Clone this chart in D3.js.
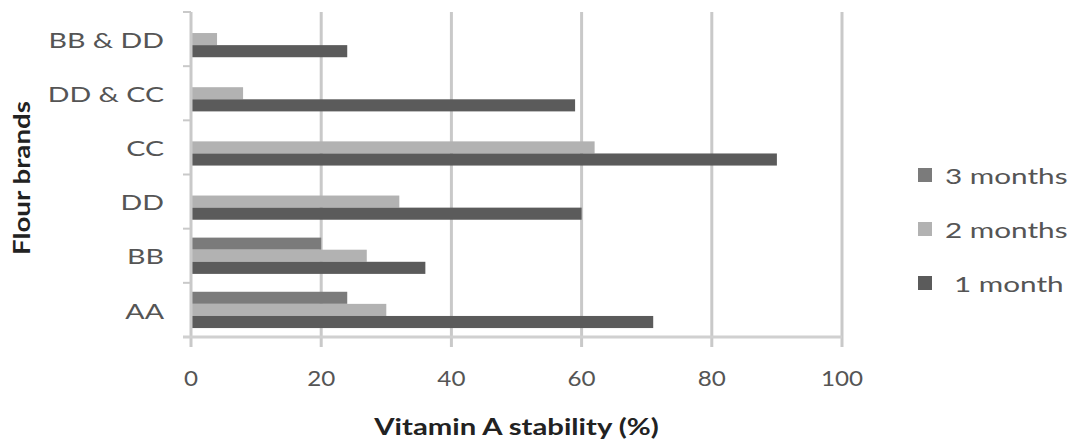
<!DOCTYPE html>
<html lang="en">
<head>
<meta charset="UTF-8">
<title>Vitamin A stability</title>
<script src="https://cdn.jsdelivr.net/npm/d3@7"></script>
<style>
  body { margin: 0; background: #fff; }
  text { font-family: Lato, "Open Sans", sans-serif; }
</style>
</head>
<body>
<script>
  // data
  var brands = ['AA', 'BB', 'DD', 'CC', 'DD & CC', 'BB & DD'];
  var series = ['3 months', '2 months', '1 month'];
  var month3 = [24, 20, 0, 0, 0, 0];
  var month2 = [30, 27, 32, 62, 8, 4];
  var month1 = [71, 36, 60, 90, 59, 24];
  var xTicks = [0, 20, 40, 60, 80, 100];

  var values = [month3, month2, month1];
  var colors = ['#7b7b7b', '#b2b2b2', '#5b5b5b'];

  var width = 1071, height = 441;
  var margin = {top: 12, left: 191, right: 229, bottom: 104};

  var svg = d3.select('body').append('svg')
      .attr('width', width)
      .attr('height', height);

  // the original picture is a bit stretched sideways, so text gets scaled in x
  function stretch(sel, sx, px, py) {
    return sel.attr('transform', (d, i) =>
      'translate(' + px(d, i) + ',' + py(d, i) + ') scale(' + sx + ',1)');
  }

  var x = d3.scaleLinear().domain([0, 100]).range([margin.left, width - margin.right]);
  // first brand at the bottom
  var y = d3.scaleBand().domain(brands.slice().reverse())
      .range([margin.top, height - margin.bottom])
      .paddingInner(0.33).paddingOuter(0.165);
  var y0 = d3.scaleBand().domain(brands.slice().reverse())
      .range([margin.top, height - margin.bottom]);
  var inner = d3.scaleBand().domain(series).range([0, y.bandwidth()]);

  // grid lines
  svg.append('g').selectAll('line')
      .data(xTicks.slice(1))
      .join('line')
      .attr('x1', d => x(d)).attr('x2', d => x(d))
      .attr('y1', margin.top).attr('y2', height - margin.bottom + 10)
      .attr('stroke', '#c9c9c9').attr('stroke-width', 3);

  // bars
  series.forEach(function(s, si) {
    svg.append('g').selectAll('rect')
        .data(brands.map((b, i) => ({b: b, v: values[si][i]})))
        .join('rect')
        .attr('x', x(0))
        .attr('y', d => y(d.b) + inner(s))
        .attr('width', d => x(d.v) - x(0))
        .attr('height', inner.bandwidth())
        .attr('fill', colors[si]);
  });

  // y axis
  var yAxis = svg.append('g');
  yAxis.append('line')
      .attr('x1', x(0)).attr('x2', x(0))
      .attr('y1', margin.top).attr('y2', height - margin.bottom + 10)
      .attr('stroke', '#c9c9c9').attr('stroke-width', 3);
  yAxis.selectAll('.tk')
      .data(brands.concat(['end']))
      .join('line')
      .attr('x1', x(0) - 8).attr('x2', x(0))
      .attr('y1', (d, i) => i < brands.length ? y0(d) : height - margin.bottom)
      .attr('y2', (d, i) => i < brands.length ? y0(d) : height - margin.bottom)
      .attr('stroke', '#c9c9c9').attr('stroke-width', 2);
  stretch(yAxis.selectAll('text')
      .data(brands)
      .join('text')
      .attr('dy', '0.35em')
      .attr('text-anchor', 'end')
      .attr('font-size', 22)
      .attr('fill', '#555')
      .text(d => d), 1.3, () => 164, d => y0(d) + y0.bandwidth() / 2 + 1);

  // x axis
  var xAxis = svg.append('g');
  xAxis.append('line')
      .attr('x1', x(0) - 8).attr('x2', x(100))
      .attr('y1', height - margin.bottom).attr('y2', height - margin.bottom)
      .attr('stroke', '#d0d0d0').attr('stroke-width', 3);
  stretch(xAxis.selectAll('text')
      .data(xTicks)
      .join('text')
      .attr('text-anchor', 'middle')
      .attr('font-size', 22)
      .attr('fill', '#555')
      .text(d => d), 1.1, d => x(d), () => 386);

  // axis titles
  svg.append('text')
      .attr('transform', 'translate(' + x(50) + ',435) scale(1.33,1)')
      .attr('text-anchor', 'middle')
      .attr('font-size', 22).attr('font-weight', 'bold')
      .attr('fill', '#222')
      .text('Vitamin A stability (%)');
  svg.append('text')
      .attr('transform', 'translate(30,178) rotate(-90) scale(1.26,1)')
      .attr('text-anchor', 'middle')
      .attr('font-size', 22).attr('font-weight', 'bold')
      .attr('fill', '#222')
      .text('Flour brands');

  // legend
  var legend = svg.append('g').selectAll('g')
      .data(series)
      .join('g')
      .attr('transform', (d, i) => 'translate(918,' + (175 + i * 54) + ')');
  legend.append('rect')
      .attr('x', 0).attr('y', -7).attr('width', 14).attr('height', 14)
      .attr('fill', (d, i) => colors[i]);
  legend.append('text')
      .attr('transform', (d, i) => 'translate(' + (i === 2 ? 36 : 27) + ',1) scale(1.35,1)')
      .attr('dy', '0.35em')
      .attr('font-size', 22).attr('fill', '#555')
      .text(d => d);
</script>
</body>
</html>
